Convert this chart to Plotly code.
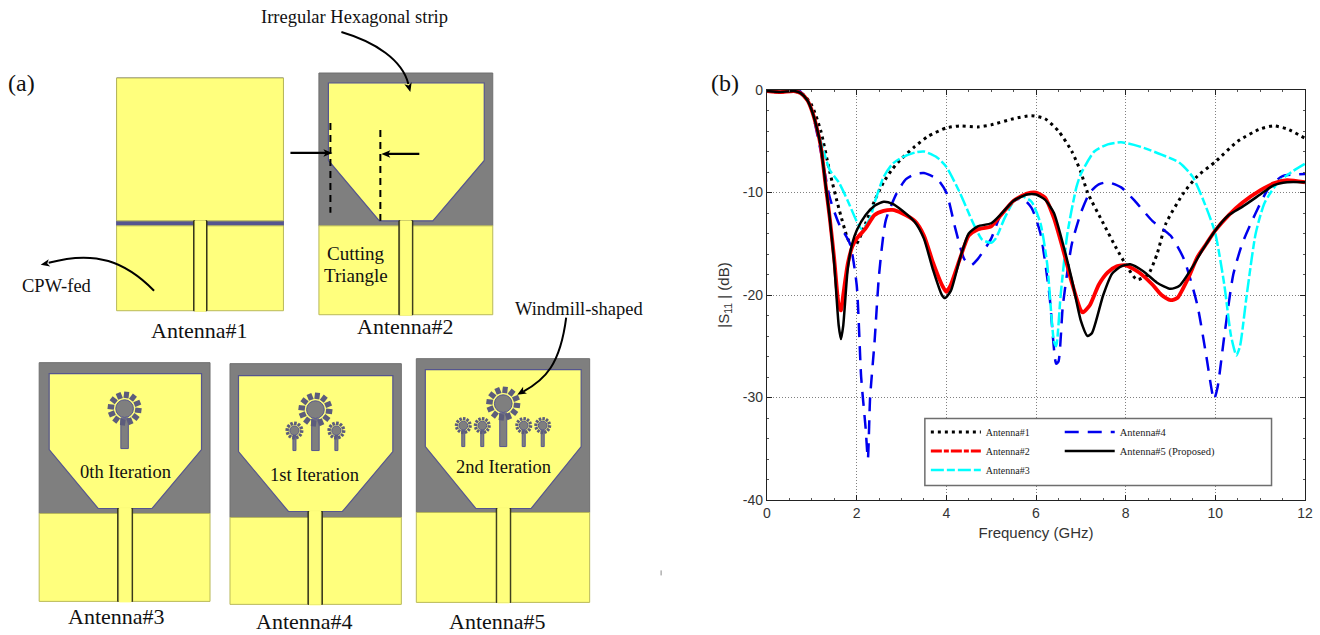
import math
import plotly.graph_objects as go

# ---------- S11 curves ----------
f1 = [0,.3,.6,.8,1,1.2,1.4,1.6,1.8,1.9,2,2.2,2.4,2.6,2.8,3,3.3,3.6,4,4.3,4.7,5,5.5,5.9,6.2,6.5,6.8,7,7.15,7.5,7.8,8,8.25,8.5,8.7,8.9,9.3,9.6,10,10.5,11,11.3,11.6,12]
s1 = [-.1,-.2,-.1,-.4,-1.5,-4,-8,-11.5,-14.5,-15.2,-15,-13,-10.8,-9,-7.7,-6.7,-5.5,-4.5,-3.7,-3.5,-3.6,-3.4,-2.8,-2.5,-2.8,-4,-6,-8,-10,-13,-15.5,-17,-18.5,-18,-16,-13,-10,-8.4,-7,-5,-3.8,-3.5,-3.8,-4.7]

f2 = [0,.3,.6,.75,.9,1,1.1,1.2,1.3,1.4,1.5,1.6,1.65,1.7,1.8,1.9,2,2.2,2.4,2.6,2.8,3,3.3,3.5,3.7,3.9,4,4.1,4.3,4.5,4.7,5,5.2,5.5,5.8,6,6.2,6.4,6.6,6.8,7,7.05,7.2,7.4,7.6,7.8,8,8.3,8.6,8.8,9,9.15,9.4,9.6,9.8,10,10.3,10.6,11,11.3,11.6,12]
s2 = [-.1,-.2,-.1,-.3,-1,-2,-3.5,-5.5,-9,-12.5,-16.5,-21,-21.5,-20,-17,-15.3,-14.5,-13.5,-12.2,-11.8,-11.7,-12,-12.8,-14.2,-16.8,-19,-19.7,-19,-16.5,-14.2,-13.6,-13.3,-12.3,-10.8,-10.1,-10,-10.5,-12.5,-15.5,-18.8,-21.5,-21.7,-21,-19,-17.8,-17.2,-17.1,-17.8,-19,-20,-20.5,-20.3,-18.3,-16.3,-15,-13.7,-12.2,-11,-9.8,-9.1,-8.8,-9]

f3 = [0,.3,.7,.9,1,1.2,1.4,1.6,1.8,2,2.12,2.3,2.4,2.6,2.8,3,3.3,3.5,3.8,4,4.3,4.6,4.8,5,5.1,5.3,5.5,5.7,5.9,6.1,6.25,6.4,6.45,6.55,6.7,6.9,7,7.3,7.6,7.9,8.3,8.8,9.2,9.5,9.8,10,10.2,10.35,10.47,10.55,10.7,10.9,11.1,11.4,11.7,12]
s3 = [-.1,-.2,-.2,-1,-2,-5,-7.8,-9,-10.8,-12.8,-13.6,-12.5,-11,-8.5,-7.2,-6.6,-6.1,-6,-6.6,-7.5,-10,-13,-14.6,-14.9,-14.5,-12.5,-10.9,-10.4,-10.9,-13,-17,-24.5,-25,-20,-14,-9.5,-8.2,-6,-5.3,-5.1,-5.5,-6.3,-7.1,-8.5,-11.5,-14,-19,-24,-25.9,-25,-20,-14,-11,-9,-8,-7.2]

f4 = [0,.3,.7,.9,1,1.2,1.4,1.6,1.85,2,2.1,2.2,2.25,2.3,2.4,2.5,2.65,2.9,3.1,3.3,3.5,3.8,4,4.2,4.4,4.55,4.7,5,5.2,5.5,5.7,5.9,6.1,6.3,6.45,6.5,6.6,6.8,7,7.2,7.4,7.6,7.9,8.2,8.6,9,9.3,9.6,9.8,9.97,10.05,10.2,10.4,10.6,10.9,11.2,11.5,12]
s4 = [-.1,-.2,0,-1,-2,-6,-10.5,-13,-15,-19,-28,-33,-36,-30,-24.5,-18,-12.7,-10,-8.7,-8.2,-8.1,-8.7,-10,-13.5,-16.5,-17.1,-16.5,-14.5,-12.3,-10.8,-10.6,-11.5,-14,-20,-26.7,-26.5,-21,-15,-12,-10,-9.2,-9,-9.5,-10.8,-12.8,-14.2,-16.5,-21,-26,-30.2,-29,-24,-18,-15,-12,-9.5,-8.4,-8.2]

f5 = [0,.3,.6,.75,.9,1,1.1,1.2,1.3,1.4,1.5,1.6,1.65,1.7,1.8,1.9,2,2.2,2.4,2.6,2.8,3,3.3,3.5,3.7,3.9,3.97,4.1,4.3,4.5,4.7,5,5.2,5.5,5.8,6,6.2,6.4,6.6,6.8,7,7.15,7.25,7.5,7.7,7.9,8.1,8.4,8.7,9,9.2,9.5,9.7,10,10.3,10.6,11,11.3,11.6,12]
s5 = [-.1,-.2,-.1,-.3,-1,-2,-3.5,-5.5,-9,-12.5,-17,-23,-24.3,-23,-17.5,-15,-13.7,-12.2,-11.3,-10.9,-11.1,-11.7,-12.9,-14.5,-17.5,-20,-20.3,-19.6,-16.5,-14,-13.3,-13,-12.2,-10.8,-10.2,-10.2,-10.7,-12,-15,-18.5,-22.5,-24,-23.7,-20,-17.9,-17.2,-17,-17.7,-18.8,-19.4,-19.1,-17.2,-15.7,-13.7,-12.2,-11.4,-10.2,-9.3,-9,-9]

names = ["Antenna#1", "Antenna#2", "Antenna#3", "Antenna#4", "Antenna#5 (Proposed)"]
x_ticks = [0, 2, 4, 6, 8, 10, 12]
y_ticks = [0, -10, -20, -30, -40]
y_labels = ["0", "-10", "-20", "-30", "-40"]

W, H = 1320, 635
L, R, T, B = 767, 1305.5, 90, 500.5
X = lambda p: (p - L) / (R - L)
Y = lambda p: (B - p) / (B - T)

YEL, GRY, EDGE = "#ffff7d", "#7f7f7f", "#55558f"
SERIF = "Liberation Serif"
shapes, notes = [], []


def rect(x0, y0, x1, y1, fill, line=None, lw=1):
    shapes.append(dict(type="rect", xref="paper", yref="paper", x0=X(x0), x1=X(x1), y0=Y(y1), y1=Y(y0),
                       fillcolor=fill, line=dict(color=line or fill, width=lw), layer="below"))


def path(pts, fill=None, line=None, lw=1, dash=None, curve=False):
    if curve:
        a, b, c, d = pts
        s = f"M{X(a[0])},{Y(a[1])} C{X(b[0])},{Y(b[1])} {X(c[0])},{Y(c[1])} {X(d[0])},{Y(d[1])}"
    else:
        s = "M" + " L".join(f"{X(p[0])},{Y(p[1])}" for p in pts) + (" Z" if fill else "")
    shapes.append(dict(type="path", xref="paper", yref="paper", path=s, fillcolor=fill or "rgba(0,0,0,0)",
                       line=dict(color=line or "rgba(0,0,0,0)", width=lw, dash=dash or "solid"), layer="below"))


def text(x, y, s, size, anchor="center"):
    notes.append(dict(xref="paper", yref="paper", x=X(x), y=Y(y), text=s, showarrow=False, xanchor=anchor,
                      yanchor="middle", font=dict(family=SERIF, size=size, color="#111111")))


def head(tip, ang, size=9):
    a = math.radians(ang)
    px, py = math.cos(a), math.sin(a)
    path([tip, (tip[0] - size * px + .42 * size * py, tip[1] - size * py - .42 * size * px),
          (tip[0] - .75 * size * px, tip[1] - .75 * size * py),
          (tip[0] - size * px - .42 * size * py, tip[1] - size * py + .42 * size * px)], fill="#000000")


def windmill(cx, cy, r, stem_w, stem_end):
    rect(cx - stem_w / 2, cy + r * .55, cx + stem_w / 2, stem_end, GRY, EDGE, 1)
    n = 12
    for i in range(n):
        a = 2 * math.pi * i / n + .13
        path([(cx + .62 * r * math.cos(a), cy + .62 * r * math.sin(a)),
              (cx + r * math.cos(a), cy + r * math.sin(a))], line="#5c5c7c", lw=max(1.6, r * .3))
    shapes.append(dict(type="circle", xref="paper", yref="paper", x0=X(cx - .52 * r), x1=X(cx + .52 * r),
                       y0=Y(cy + .52 * r), y1=Y(cy - .52 * r), fillcolor=GRY, line=dict(color=EDGE, width=1), layer="below"))


def feed(fl, fr, top, bottom):
    rect(fl - 1.5, top, fr + 1.5, bottom, "#33331a")
    rect(fl, top, fr, bottom + .5, YEL)


def antenna(ol, ot, orr, split, gb, pl, pr, ptop, psh, pbl, pbr, pbot, fl, fr):
    rect(ol, ot, orr, split, GRY, "#6f6f6f", 1)
    path([(pl, ptop), (pr, ptop), (pr, psh), (pbr, pbot), (pbl, pbot), (pl, psh)], fill=YEL, line=EDGE, lw=1.2)
    rect(ol, split, orr, gb, YEL, "#b9b95a", 1)
    feed(fl, fr, pbot, gb)


# Antenna#1
rect(116, 78, 283, 226, EDGE)
rect(116, 78, 283, 221, YEL, "#b9b95a", 1)
rect(116, 226, 283, 311, YEL, "#b9b95a", 1)
feed(194.5, 205, 221, 311)

# Antenna#2 to #5 bodies
antenna(318.5, 73, 492.5, 226, 315, 328, 484, 83, 160.5, 379, 432.5, 221, 400, 411)
antenna(38.5, 363, 209.5, 514, 602, 48.5, 201, 374, 450, 97.5, 151.5, 509, 118.5, 130.5)
antenna(229.5, 364, 401, 518, 605, 238, 392.5, 376, 452, 288, 342, 512, 309, 320.5)
antenna(416, 359, 589.5, 513, 603, 425, 581, 370, 447, 475.5, 531, 509, 497.5, 509)

# Windmills
windmill(124, 409, 17, 7.5, 449)
windmill(315, 410, 17, 7.5, 451)
windmill(294, 431, 9, 3, 451)
windmill(336, 431, 9, 3, 451)
windmill(503, 404, 17, 7, 447)
for wx in (463, 482, 523.5, 542.5):
    windmill(wx, 426, 8.5, 3, 447)

# Dimension marks and arrows
path([(330, 123), (330, 213)], line="#000000", lw=2, dash="7px,5px")
path([(380, 130), (380, 221)], line="#000000", lw=2, dash="7px,5px")
path([(290, 153), (326, 153)], line="#000000", lw=2.2)
head((332, 153), 0)
path([(419, 154), (387, 154)], line="#000000", lw=2.2)
head((381, 154), 180)
path([(341, 32), (375, 42), (402, 60), (408, 84)], line="#000000", lw=2, curve=True)
head((410, 92), 75)
path([(153.5, 291), (125, 262), (95, 250), (48, 263)], line="#000000", lw=2, curve=True)
head((40, 265), 168)
path([(566, 318), (560, 365), (545, 380), (523, 392)], line="#000000", lw=2, curve=True)
head((517, 395), 150)
path([(661, 571), (661, 576)], line="#888888", lw=1)

# Texts of panel (a)
text(21, 83, "(a)", 24)
text(725, 83, "(b)", 24)
text(354, 17, "Irregular Hexagonal strip", 18.5)
text(56, 286, "CPW-fed", 18.5)
text(356, 254, "Cutting", 19)
text(356, 276, "Triangle", 19)
text(579, 309, "Windmill-shaped", 18.5)
text(199, 331, "Antenna#1", 22)
text(405, 327, "Antenna#2", 22)
text(116, 617, "Antenna#3", 22)
text(304, 622, "Antenna#4", 22)
text(497, 622, "Antenna#5", 22)
text(125, 472, "0th Iteration", 18.5)
text(314, 475, "1st Iteration", 18.5)
text(503, 467, "2nd Iteration", 18.5)

# Legend frame (panel b)
shapes.append(dict(type="rect", xref="paper", yref="paper", x0=X(925), x1=X(1272), y0=Y(486), y1=Y(419),
                   fillcolor="#ffffff", line=dict(color="#6e6e6e", width=1.5), layer="above"))

fig = go.Figure()


def curve(fx, sx, name, color, width, dash, rank, legend, show=True):
    fig.add_trace(go.Scatter(x=fx, y=sx, mode="lines", name=name, legend=legend, legendrank=rank, showlegend=show,
                             line=dict(color=color, width=width, dash=dash, shape="spline", smoothing=.6),
                             hoverinfo="skip"))


curve(f1, s1, names[0], "#000000", 3, "3px,4px", 1, "legend")
curve(f4, s4, names[3], "#0000ee", 2.5, "14px,9px", 1, "legend2")
curve(f3, s3, names[2], "#00ffff", 2.5, "13px,3px,8px,3px", 3, "legend")
curve(f2, s2, names[1], "#ff0000", 3.8, "solid", 2, "legend", show=False)
fig.add_trace(go.Scatter(x=[None], y=[None], mode="lines", name=names[1], legendrank=2,
                         line=dict(color="#ff0000", width=3, dash="11px,2px,5px,2px")))
curve(f5, s5, names[4], "#000000", 2.5, "solid", 2, "legend2")

axis_common = dict(showline=True, linecolor="#222222", linewidth=1.2, mirror="ticks", ticks="inside", ticklen=5,
                   tickcolor="#222222", showgrid=True, gridcolor="#808080", griddash="1px,2px", gridwidth=1,
                   zeroline=False, tickfont=dict(family="Liberation Sans", size=14, color="#333333"),
                   minor=dict(ticks="inside", ticklen=2, tickcolor="#555555", showgrid=False))

legend_common = dict(xref="paper", yref="paper", bgcolor="rgba(0,0,0,0)", borderwidth=0, itemwidth=50,
                     tracegroupgap=0, xanchor="left", yanchor="top", itemclick=False, itemdoubleclick=False)

fig.update_layout(
    width=W, height=H, autosize=False, paper_bgcolor="#ffffff", plot_bgcolor="#ffffff",
    margin=dict(l=L, r=W - R, t=T, b=H - B, autoexpand=False),
    shapes=shapes, annotations=notes,
    xaxis=dict(range=[0, 12], tickvals=x_ticks, title=dict(text="Frequency (GHz)", standoff=7,
               font=dict(family="Liberation Sans", size=15, color="#333333")), **axis_common),
    yaxis=dict(range=[-40, 0], tickvals=y_ticks, ticktext=y_labels, title=dict(text="|S<sub>11</sub> | (dB)", standoff=9,
               font=dict(family="Liberation Sans", size=15, color="#333333")), **axis_common),
    legend=dict(x=X(926), y=Y(418), font=dict(family=SERIF, size=10, color="#222222"), **legend_common),
    legend2=dict(x=X(1060), y=Y(418), font=dict(family=SERIF, size=10.5, color="#222222"), **legend_common),
)

fig.write_html("out.html", config=dict(displayModeBar=False),
               post_script="document.body.style.margin='0';document.body.style.overflow='hidden';")
